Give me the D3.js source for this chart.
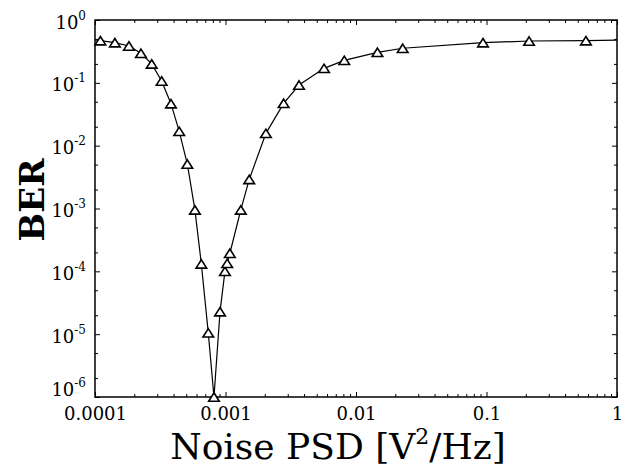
<!DOCTYPE html>
<html>
<head>
<meta charset="utf-8">
<script src="https://cdn.jsdelivr.net/npm/d3@7"></script>
<style>
  body { margin: 0; background: #fff; }
  text { font-family: "DejaVu Serif", serif; fill: #000; }
</style>
</head>
<body>
<script>
// simulated points (markers)
var noisePsd = [1.10e-4, 1.42e-4, 1.82e-4, 2.25e-4, 2.72e-4, 3.24e-4, 3.82e-4, 4.42e-4,
    5.1e-4, 5.83e-4, 6.53e-4, 7.38e-4, 8.16e-4, 9.08e-4, 9.9e-4, 1.03e-3, 1.08e-3,
    1.31e-3, 1.52e-3, 2.04e-3, 2.79e-3, 3.66e-3, 5.69e-3, 8.13e-3, 0.0146, 0.0228,
    0.094, 0.212, 0.578];
var ber = [0.469, 0.435, 0.386, 0.295, 0.2, 0.107, 0.0466, 0.0169,
    5.1e-3, 9.5e-4, 1.31e-4, 1.05e-5, 1e-6, 2.28e-5, 1e-4, 1.34e-4, 1.94e-4,
    9.5e-4, 2.9e-3, 0.0157, 0.0472, 0.0923, 0.170, 0.228, 0.306, 0.355,
    0.435, 0.463, 0.468];
// curve ends at the plot edges
var curveStart = [1e-4, 0.48];
var curveEnd = [1, 0.48];

var xMajor = [1e-4, 1e-3, 1e-2, 1e-1, 1];
var xLabels = ["0.0001", "0.001", "0.01", "0.1", "1"];
var yExp = [0, -1, -2, -3, -4, -5, -6];

var width = 631, height = 467;
var mLeft = 95, mRight = 617, mTop = 20, mBottom = 397;

var svg = d3.select("body").append("svg")
    .attr("width", width)
    .attr("height", height);

var x = d3.scaleLog().domain([1e-4, 1]).range([mLeft, mRight]);
var y = d3.scaleLog().domain([1e-6, 1]).range([mBottom, mTop]);

var xMinor = [];
xMajor.slice(0, -1).forEach(function (d) {
    for (var m = 2; m <= 9; m++) xMinor.push(d * m);
});
var yMajor = yExp.map(function (e) { return Math.pow(10, e); });
var yMinor = [];
yMajor.slice(1).forEach(function (d) {
    yMinor.push(d * 2, d * 5);
});

function styleAxis(g) {
    g.select(".domain").remove();
    g.selectAll("line").attr("stroke", "#000").attr("stroke-width", 1);
}

// minor ticks, all four sides
svg.append("g").attr("transform", "translate(0," + mBottom + ")")
    .call(d3.axisBottom(x).tickValues(xMinor).tickSize(-3).tickFormat(""))
    .call(styleAxis);
svg.append("g").attr("transform", "translate(0," + mTop + ")")
    .call(d3.axisTop(x).tickValues(xMinor).tickSize(-3).tickFormat(""))
    .call(styleAxis);
svg.append("g").attr("transform", "translate(" + mLeft + ",0)")
    .call(d3.axisLeft(y).tickValues(yMinor).tickSize(-3).tickFormat(""))
    .call(styleAxis);
svg.append("g").attr("transform", "translate(" + mRight + ",0)")
    .call(d3.axisRight(y).tickValues(yMinor).tickSize(-3).tickFormat(""))
    .call(styleAxis);

// major ticks
var xAxis = svg.append("g").attr("transform", "translate(0," + mBottom + ")")
    .call(d3.axisBottom(x).tickValues(xMajor).tickSize(-5).tickPadding(10)
        .tickFormat(function (d, i) { return xLabels[i]; }))
    .call(styleAxis);
xAxis.selectAll("text").attr("font-size", 18).attr("font-family", "DejaVu Serif");

svg.append("g").attr("transform", "translate(0," + mTop + ")")
    .call(d3.axisTop(x).tickValues(xMajor).tickSize(-5).tickFormat(""))
    .call(styleAxis);

var yAxis = svg.append("g").attr("transform", "translate(" + mLeft + ",0)")
    .call(d3.axisLeft(y).tickValues(yMajor).tickSize(-5).tickPadding(9).tickFormat(""))
    .call(styleAxis);
yAxis.selectAll(".tick text")
    .attr("font-size", 18)
    .attr("font-family", "DejaVu Serif")
    .attr("dy", function (d, i) { return i === yExp.length - 1 ? "-0.1em" : "0.45em"; })
    .each(function (d, i) {
        var t = d3.select(this);
        t.text("10");
        t.append("tspan").attr("font-size", 12).attr("dy", "-0.75em")
            .text(yExp[i] === 0 ? "0" : "-" + (-yExp[i]));
    });

svg.append("g").attr("transform", "translate(" + mRight + ",0)")
    .call(d3.axisRight(y).tickValues(yMajor).tickSize(-5).tickFormat(""))
    .call(styleAxis);

// frame
svg.append("rect")
    .attr("x", mLeft).attr("y", mTop)
    .attr("width", mRight - mLeft).attr("height", mBottom - mTop)
    .attr("fill", "none").attr("stroke", "#000").attr("stroke-width", 1.5);

// curve
var curvePts = [curveStart].concat(noisePsd.map(function (d, i) { return [d, ber[i]]; }), [curveEnd]);
var line = d3.line()
    .x(function (d) { return x(d[0]); })
    .y(function (d) { return y(d[1]); });

svg.append("path")
    .datum(curvePts)
    .attr("d", line)
    .attr("fill", "none")
    .attr("stroke", "#000")
    .attr("stroke-width", 1.2);

// triangle markers
var tri = {
    draw: function (ctx, size) {
        var w = 5.3, h = 4.2;
        ctx.moveTo(0, -h);
        ctx.lineTo(w, h);
        ctx.lineTo(-w, h);
        ctx.closePath();
    }
};
svg.selectAll(".marker")
    .data(noisePsd)
    .enter()
    .append("path")
    .attr("class", "marker")
    .attr("d", d3.symbol().type(tri).size(1))
    .attr("transform", function (d, i) {
        return "translate(" + x(d) + "," + y(ber[i]) + ")";
    })
    .attr("fill", "#fff")
    .attr("stroke", "#000")
    .attr("stroke-width", 1.6);

// axis titles
svg.append("text")
    .attr("x", 338)
    .attr("y", 459)
    .attr("text-anchor", "middle")
    .attr("font-size", 36)
    .text("Noise PSD [V")
    .call(function (t) {
        t.append("tspan").attr("font-size", 22).attr("dy", -15).text("2");
        t.append("tspan").attr("dy", 15).text("/Hz]");
    });

svg.append("text")
    .attr("transform", "translate(44," + 200 + ") rotate(-90)")
    .attr("text-anchor", "middle")
    .attr("font-size", 34)
    .attr("font-weight", "bold")
    .text("BER");
</script>
</body>
</html>
